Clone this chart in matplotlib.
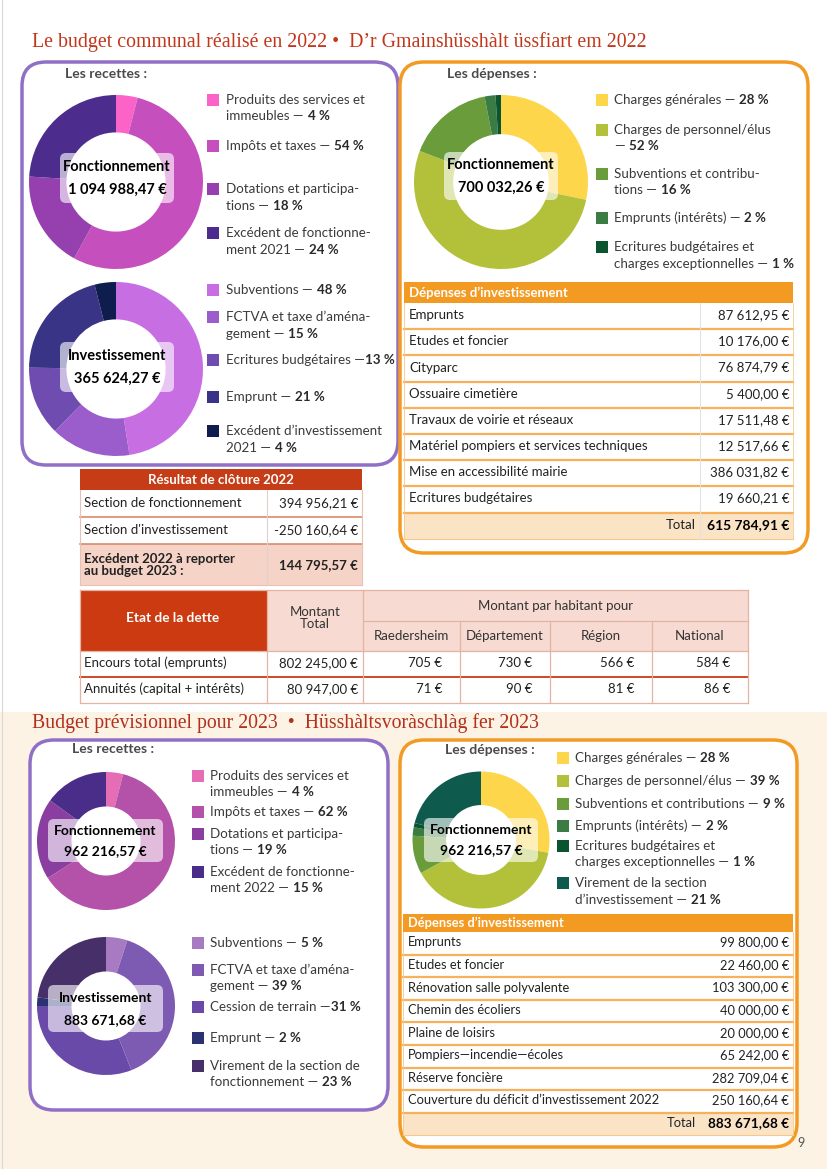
import matplotlib
matplotlib.use("Agg")
import matplotlib.pyplot as plt
from matplotlib.patches import FancyBboxPatch, Rectangle

# ------------------------------------------------------------------ data
title_2022 = "Le budget communal réalisé en 2022 •  D’r Gmainshüsshàlt üssfiart em 2022"
title_2023 = "Budget prévisionnel pour 2023  •  Hüsshàltsvoràschlàg fer 2023"

rec22_f_labels = ["Produits des services et\nimmeubles —", "Impôts et taxes —",
                  "Dotations et participa-\ntions —", "Excédent de fonctionne-\nment 2021 —"]
rec22_f_pct = [4, 54, 18, 24]
rec22_f_total = 1094988.47

rec22_i_labels = ["Subventions —", "FCTVA et taxe d’aména-\ngement —",
                  "Ecritures budgétaires —", "Emprunt —", "Excédent d’investissement\n2021 —"]
rec22_i_pct = [48, 15, 13, 21, 4]
rec22_i_total = 365624.27

dep22_f_labels = ["Charges générales —", "Charges de personnel/élus\n—",
                  "Subventions et contribu-\ntions —", "Emprunts (intérêts) —",
                  "Ecritures budgétaires et\ncharges exceptionnelles —"]
dep22_f_pct = [28, 52, 16, 2, 1]
dep22_f_total = 700032.26

dep22_i_names = ["Emprunts", "Etudes et foncier", "Cityparc", "Ossuaire cimetière",
                 "Travaux de voirie et réseaux", "Matériel pompiers et services techniques",
                 "Mise en accessibilité mairie", "Ecritures budgétaires"]
dep22_i_vals = [87612.95, 10176.00, 76874.79, 5400.00, 17511.48, 12517.66, 386031.82, 19660.21]

cloture_names = ["Section de fonctionnement", "Section d'investissement"]
cloture_vals = [394956.21, -250160.64]
cloture_total_label = "Excédent 2022 à reporter\nau budget 2023 :"

dette_cols = ["Raedersheim", "Département", "Région", "National"]
dette_rows = ["Encours total (emprunts)", "Annuités (capital + intérêts)"]
dette_totals = [802245.00, 80947.00]
dette_per_hab = [[705, 730, 566, 584], [71, 90, 81, 86]]

rec23_f_labels = ["Produits des services et\nimmeubles —", "Impôts et taxes —",
                  "Dotations et participa-\ntions —", "Excédent de fonctionne-\nment 2022 —"]
rec23_f_pct = [4, 62, 19, 15]
rec23_f_total = 962216.57

rec23_i_labels = ["Subventions —", "FCTVA et taxe d’aména-\ngement —",
                  "Cession de terrain —", "Emprunt —", "Virement de la section de\nfonctionnement —"]
rec23_i_pct = [5, 39, 31, 2, 23]
rec23_i_total = 883671.68

dep23_f_labels = ["Charges générales —", "Charges de personnel/élus —",
                  "Subventions et contributions —", "Emprunts (intérêts) —",
                  "Ecritures budgétaires et\ncharges exceptionnelles —",
                  "Virement de la section\nd’investissement —"]
dep23_f_pct = [28, 39, 9, 2, 1, 21]
dep23_f_total = 962216.57

dep23_i_names = ["Emprunts", "Etudes et foncier", "Rénovation salle polyvalente",
                 "Chemin des écoliers", "Plaine de loisirs", "Pompiers—incendie—écoles",
                 "Réserve foncière", "Couverture du déficit d’investissement 2022"]
dep23_i_vals = [99800.00, 22460.00, 103300.00, 40000.00, 20000.00, 65242.00, 282709.04, 250160.64]

# ------------------------------------------------------------------ style
W, H = 827, 1169
SANS = "Lato"
SERIF = "Liberation Serif"
PURPLE = "#9070c6"
ORANGE = "#f39a22"
RED = "#c63c16"
TXT = "#2b2b2b"

COL_REC22_F = ["#fb63c8", "#c64fbe", "#963faf", "#4c2c8c"]
COL_REC22_I = ["#c86ee3", "#9b5ccc", "#6f4caf", "#3a3486", "#0e1c4e"]
COL_DEP_F = ["#fdd64b", "#b3c13a", "#6a9c3c", "#3a7c44", "#0a5530", "#0e5a4c"]
COL_REC23_F = ["#e56db5", "#b352a8", "#8a3fa0", "#4a2d88"]
COL_REC23_I = ["#a87ac2", "#7e5bb3", "#6a4aa8", "#2a3272", "#472f6a"]


def euro(v):
    s = f"{v:,.2f}".replace(",", " ").replace(".", ",")
    return s + " €"


fig = plt.figure(figsize=(W / 100, H / 100), dpi=100)
fig.patch.set_facecolor("white")
bg = fig.add_axes([0, 0, 1, 1])
bg.set_xlim(0, W); bg.set_ylim(H, 0); bg.axis("off")

# backgrounds
bg.add_patch(Rectangle((0, 712), W, H - 712, fc="#fdf3e5", ec="none"))
bg.plot([2, 2], [0, H], color="#d8d8d8", lw=0.8)


def rbox(x0, y0, x1, y1, color, rs=24, lw=2.5, fc="white"):
    bg.add_patch(FancyBboxPatch((x0, y0), x1 - x0, y1 - y0,
                                boxstyle=f"round,pad=0,rounding_size={rs}",
                                fc=fc, ec=color, lw=lw))


rbox(22, 62, 398, 465, PURPLE)
rbox(400, 62, 808, 553, ORANGE)
rbox(30, 740, 388, 1110, PURPLE, fc="white")
rbox(400, 740, 797, 1147, ORANGE, fc="white")


def pie(cx, cy, r, vals, cols, width):
    ax = fig.add_axes([(cx - r) / W, 1 - (cy + r) / H, 2 * r / W, 2 * r / H])
    ax.pie(vals, colors=cols[:len(vals)], startangle=90, counterclock=False, radius=1,
           wedgeprops=dict(width=width, edgecolor="none", linewidth=0))
    ax.set_xlim(-1, 1); ax.set_ylim(-1, 1); ax.set_aspect("equal"); ax.axis("off")


pie(116, 182, 87, rec22_f_pct, COL_REC22_F, 0.43)
pie(116, 369, 87, rec22_i_pct, COL_REC22_I, 0.43)
pie(501, 182, 87, dep22_f_pct, COL_DEP_F, 0.45)
pie(106, 841, 69, rec23_f_pct, COL_REC23_F, 0.50)
pie(106, 1006, 69, rec23_i_pct, COL_REC23_I, 0.50)
pie(481, 840, 68.5, dep23_f_pct, COL_DEP_F, 0.49)

top = fig.add_axes([0, 0, 1, 1])
top.set_xlim(0, W); top.set_ylim(H, 0); top.axis("off")
R = fig.canvas.get_renderer()


def txt(x, y, s, size=9.5, bold=False, color=TXT, ha="left", va="center", family=SANS, **kw):
    return top.text(x, y, s, fontsize=size, fontweight="bold" if bold else "normal",
                    color=color, ha=ha, va=va, family=family, **kw)


def center_label(x0, y0, x1, y1, name, total, size=10.5):
    top.add_patch(FancyBboxPatch((x0, y0), x1 - x0, y1 - y0,
                                 boxstyle="round,pad=0,rounding_size=6",
                                 fc="white", ec="none", alpha=0.62))
    cx = (x0 + x1) / 2
    h = y1 - y0
    txt(cx, y0 + h * 0.28, name, size=size, bold=True, color="black", ha="center")
    txt(cx, y0 + h * 0.74, total, size=size, bold=True, color="black", ha="center")


center_label(60, 153, 174, 203, "Fonctionnement", euro(rec22_f_total))
center_label(60, 342, 174, 392, "Investissement", euro(rec22_i_total))
center_label(444, 152, 558, 200, "Fonctionnement", euro(dep22_f_total))
center_label(48, 819, 163, 862, "Fonctionnement", euro(rec23_f_total), size=10)
center_label(48, 985, 163, 1032, "Investissement", euro(rec23_i_total), size=10)
center_label(424, 818, 538, 862, "Fonctionnement", euro(dep23_f_total), size=10)


def legend(xs, xt, ys, labels, pcts, cols, size=9.6, lh=16.5, gaps=None):
    if gaps is None:
        gaps = [4] * len(labels)
    for y, lab, p, c, g in zip(ys, labels, pcts, cols, gaps):
        top.add_patch(Rectangle((xs, y - 6), 12, 12, fc=c, ec="none"))
        lines = lab.split("\n")
        t = None
        for i, ln in enumerate(lines):
            t = txt(xt, y + i * lh, ln, size=size, color="#3a3a3a")
        bb = t.get_window_extent(renderer=R)
        txt(bb.x1 + g, y + (len(lines) - 1) * lh, f"{p} %", size=size, bold=True, color="#2a2a2a")


legend(207, 226, [100, 146, 189, 233], rec22_f_labels, rec22_f_pct, COL_REC22_F)
legend(207, 226, [290, 317, 360, 397, 431], rec22_i_labels, rec22_i_pct, COL_REC22_I,
       gaps=[4, 4, 0.5, 4, 4])
legend(596, 614, [100, 130, 174, 218, 247], dep22_f_labels, dep22_f_pct, COL_DEP_F)
legend(192, 210, [776, 812, 834, 872], rec23_f_labels, rec23_f_pct, COL_REC23_F, lh=16)
legend(192, 210, [943, 970, 1007, 1038, 1066], rec23_i_labels, rec23_i_pct, COL_REC23_I, lh=16,
       gaps=[4, 4, 0.5, 4, 4])
legend(557, 575, [758, 781, 804, 826, 846, 883], dep23_f_labels, dep23_f_pct, COL_DEP_F, lh=16.5)

# titles and headings
txt(32, 42, title_2022, size=14.3, color="#c2361a", family=SERIF)
txt(32, 723, title_2023, size=14.2, color="#b3301c", family=SERIF)
txt(65, 74, "Les recettes :", size=10, bold=True, color="#4a4a4a")
txt(447, 74, "Les dépenses :", size=10, bold=True, color="#4a4a4a")
txt(72, 749, "Les recettes :", size=10, bold=True, color="#4a4a4a")
txt(445, 750, "Les dépenses :", size=10, bold=True, color="#4a4a4a")
txt(797, 1143, "9", size=9, color="#555")


def orange_table(x0, x1, y0, hh, rh, names, vals, size, divider=True):
    top.add_patch(Rectangle((x0, y0), x1 - x0, hh, fc=ORANGE, ec="none"))
    txt(x0 + 5, y0 + hh / 2, "Dépenses d’investissement", size=size, bold=True, color="white")
    yb = y0 + hh
    n = len(names)
    for i, (nm, v) in enumerate(zip(names, vals)):
        ry = yb + i * rh
        txt(x0 + 5, ry + rh / 2 - 1, nm, size=size, color="#222")
        txt(x1 - 4, ry + rh / 2 - 1, euro(v), size=size, color="#222", ha="right")
        top.plot([x0, x1], [ry + rh, ry + rh], color="#f6b15a", lw=1.6)
    ty = yb + n * rh
    top.add_patch(Rectangle((x0, ty), x1 - x0, rh, fc="#fbe4c6", ec="none"))
    top.plot([x0, x1], [ty + rh, ty + rh], color="#f6c98e", lw=0.8)
    if divider:
        top.plot([700, 700], [yb, ty + rh], color="#e2e2e2", lw=0.8)
    txt(696, ty + rh / 2 - 1, "Total", size=size, color="#222", ha="right")
    txt(x1 - 4, ty + rh / 2 - 1, euro(sum(vals)), size=size + 0.5, bold=True, color="black", ha="right")
    top.plot([x0, x0], [yb, ty + rh], color="#f6c98e", lw=0.6)
    top.plot([x1, x1], [yb, ty + rh], color="#f6c98e", lw=0.6)


orange_table(404, 793, 282, 21, 26.2, dep22_i_names, dep22_i_vals, 9.5)
orange_table(403, 793, 914, 18, 22.6, dep23_i_names, dep23_i_vals, 9.3, divider=False)

# résultat de clôture
x0, x1, xm = 80, 362, 267
top.add_patch(Rectangle((x0, 469), x1 - x0, 21, fc=RED, ec="none"))
txt((x0 + x1) / 2, 479.5, "Résultat de clôture 2022", size=9.5, bold=True, color="white", ha="center")
for i, (nm, v) in enumerate(zip(cloture_names, cloture_vals)):
    ry = 490 + i * 27
    txt(x0 + 4, ry + 13, nm, size=9.5, color="#222")
    txt(x1 - 4, ry + 13, euro(v), size=9.5, color="#222", ha="right")
    top.plot([x0, x1], [ry + 27, ry + 27], color="#d98a6c", lw=1.2)
top.add_patch(Rectangle((x0, 544), x1 - x0, 41, fc="#f6d3c7", ec="none"))
top.text(x0 + 4, 565, cloture_total_label, fontsize=9.5, fontweight="bold", color="#222",
         family=SANS, va="center", ha="left", linespacing=0.95)
txt(x1 - 4, 565, euro(sum(cloture_vals)), size=9.5, bold=True, color="#222", ha="right")
top.plot([xm, xm], [490, 585], color="#e4d0ca", lw=0.8)
top.plot([x0, x0], [490, 585], color="#e8c2b4", lw=0.8)
top.plot([x1, x1], [490, 585], color="#e8c2b4", lw=0.8)
top.plot([x0, x1], [585, 585], color="#e8c2b4", lw=0.8)

# état de la dette
dx = [80, 267, 363, 460, 550, 652, 748]
LINE = "#e4b3a3"
top.add_patch(Rectangle((80, 590), 187, 61, fc="#cb3a10", ec="none"))
top.add_patch(Rectangle((267, 590), 481, 61, fc="#f7dbd2", ec="none"))
txt(173, 618, "Etat de la dette", size=9.8, bold=True, color="white", ha="center")
top.text(315, 618, "Montant\nTotal", fontsize=9.5, color="#333", family=SANS, ha="center",
         va="center", linespacing=0.95)
txt(555, 606, "Montant par habitant pour", size=9.5, color="#333", ha="center")
for i, c in enumerate(dette_cols):
    txt((dx[i + 2] + dx[i + 3]) / 2, 636, c, size=9.5, color="#333", ha="center")
for r, (nm, tot, vals) in enumerate(zip(dette_rows, dette_totals, dette_per_hab)):
    ry = 651 + r * 26
    txt(84, ry + 12, nm, size=9.5, color="#222")
    txt(358, ry + 12, euro(tot), size=9.5, color="#222", ha="right")
    for i, v in enumerate(vals):
        txt(dx[i + 3] - 18, ry + 12, f"{v} €", size=9.5, color="#222", ha="right")
top.plot([363, 748], [621, 621], color=LINE, lw=0.9)
top.plot([80, 748], [651, 651], color=LINE, lw=0.9)
top.plot([80, 748], [677, 677], color="#cc4a22", lw=1.4)
top.plot([80, 748], [703, 703], color=LINE, lw=0.9)
top.plot([80, 748], [590, 590], color=LINE, lw=0.9)
top.plot([80, 80], [590, 703], color=LINE, lw=0.9)
top.plot([748, 748], [590, 703], color=LINE, lw=0.9)
top.plot([267, 267], [590, 703], color=LINE, lw=0.9)
top.plot([363, 363], [590, 703], color=LINE, lw=0.9)
for xv in dx[3:6]:
    top.plot([xv, xv], [621, 703], color=LINE, lw=0.9)

fig.savefig("out.png", dpi=100)
